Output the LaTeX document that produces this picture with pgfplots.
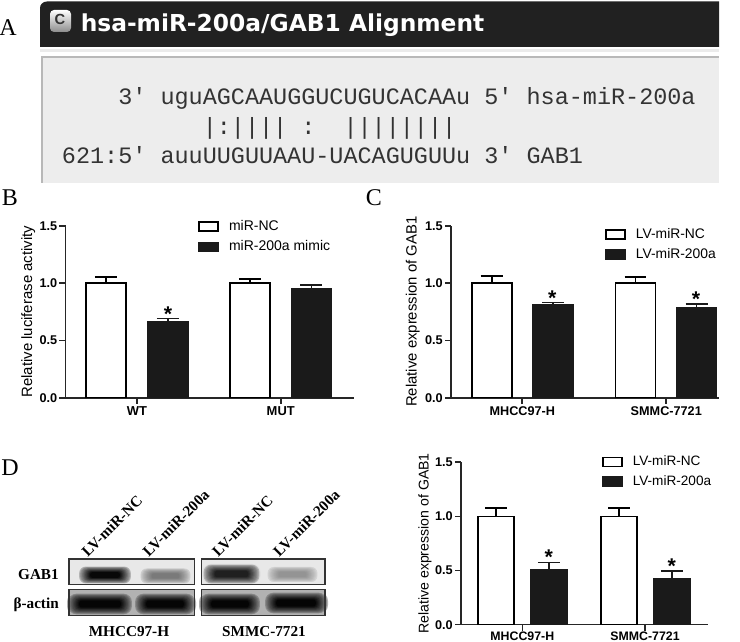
\documentclass[border=0pt]{standalone}
\usepackage{fontspec}
\setmainfont{Liberation Sans}
\newfontfamily\serifbold{Liberation Serif}[BoldFont={Liberation Serif Bold}]
\newfontfamily\alignfont{Liberation Mono}
\newfontfamily\titlefont{DejaVu Sans}
\usepackage{pgfplots}
\pgfplotsset{compat=1.18}
\usetikzlibrary{plotmarks}

\definecolor{barblack}{HTML}{1A1A1A}
\definecolor{axblack}{HTML}{262626}

% all the graphpad-looking panels share this
\pgfplotsset{
  prism/.style={
    scale only axis,
    anchor=south west,
    ymin=0, ymax=1.5,
    axis x line*=bottom, axis y line*=left,
    axis line style={-, line width=1.2pt, draw=axblack},
    tick style={line width=1.2pt, draw=axblack},
    tick align=outside,
    major tick length=4.5pt,
    ytick={0,0.5,1,1.5},
    xtick={0,1},
    /pgf/number format/assume math mode=true,
    /pgf/number format/fixed, /pgf/number format/fixed zerofill, /pgf/number format/precision=1,
    yticklabel style={font=\fontsize{9.5}{10}\selectfont\bfseries, inner sep=1.5pt},
    xticklabel style={yshift=1.2pt},
    legend cell align=left,
    legend style={draw=none, fill=none, inner sep=0pt, outer sep=0pt, anchor=north west, row sep=2pt,
      /tikz/every odd column/.append style={column sep=5.5pt}},
    legend image code/.code={
      \draw[##1, line width=1.2pt] (0pt,-3.4pt) rectangle (14.4pt,3.4pt);
    },
  },
  nc/.style={ybar, bar shift=0pt, bar width=#1, draw=black, fill=white, line width=1.25pt,
    error bars/.cd, y dir=plus, y explicit,
    error bar style={line width=1.25pt, draw=black},
    error mark options={rotate=90, mark size=8.2pt, line width=1.25pt, draw=black}},
  nc/.default=30pt,
  mir/.style={ybar, bar shift=0pt, bar width=#1, draw=barblack, fill=barblack, line width=1.25pt,
    error bars/.cd, y dir=plus, y explicit,
    error bar style={line width=1.25pt, draw=barblack},
    error mark options={rotate=90, mark size=8.2pt, line width=1.25pt, draw=barblack}},
  mir/.default=30pt,
  star/.style={only marks, forget plot, mark=text, text mark={\fontsize{16}{16}\selectfont\bfseries *},
    mark options={draw=none}},
}

% soft blot band, nested fills from background to darkest
\newcommand{\band}[6]{%
  \foreach \i in {0,...,11}{
    \pgfmathsetmacro{\d}{#5+(#6-#5)*(\i/11)^0.6}
    \pgfmathsetmacro{\rx}{#3-\i*1.1}
    \pgfmathsetmacro{\ry}{#4-\i*#4/16}
    \fill[black!\d, rounded corners=\ry*0.6pt] (#1-\rx,#2-\ry) rectangle (#1+\rx,#2+\ry);
  }%
}

\begin{document}
\begin{tikzpicture}
\useasboundingbox (0,0) rectangle (555pt,481.5pt);

\begin{scope}[x=0.75pt,y=-0.75pt,yshift=481.5pt]
  % panel letters
  \node[font=\serifbold\fontsize{18}{18}\selectfont, inner sep=0pt] at (8,28) {A};
  \node[font=\serifbold\fontsize{18}{18}\selectfont, inner sep=0pt] at (10,198) {B};
  \node[font=\serifbold\fontsize{18}{18}\selectfont, inner sep=0pt] at (374,198) {C};
  \node[font=\serifbold\fontsize{18}{18}\selectfont, inner sep=0pt] at (10,468) {D};

  % panel A, the alignment screenshot
  \fill[black!87] (40,47) -- (40,8) to[out=90,in=180] (47,1.5) -- (719,1.5) -- (719,47) -- cycle;
  \fill[black!8] (40,49) rectangle (719,52);
  \fill[black!7] (41,56) rectangle (719,183);
  \draw[black!28, line width=1.6pt] (42,183) -- (42,57) -- (719,57);
  \shade[top color=white, bottom color=black!45, rounded corners=3pt] (50,10) rectangle (71,32);
  \node[font=\bfseries\fontsize{11}{11}\selectfont, text=black!80, inner sep=0pt] at (60,19) {C};
  \node[anchor=west, inner sep=0pt, text=white,
    font=\titlefont\bfseries\fontsize{17.5}{18}\selectfont] at (80.5,25) {hsa-miR-200a/GAB1 Alignment};
  \begin{scope}[every node/.style={anchor=west, inner sep=0pt, text=black!80,
      font=\alignfont\fontsize{17.6}{18}\selectfont}]
    \node at (61.7,98) {~~~~3' uguAGCAAUGGUCUGUCACAAu 5' hsa-miR-200a};
    \node at (61.7,128) {~~~~~~~~~~|:||||~:~~||||||||};
    \node at (61.7,155) {621:5' auuUUGUUAAU-UACAGUGUUu 3' GAB1};
  \end{scope}

  % panel D, the western blot
  \fill[black!9] (69,559) rectangle (194.3,584.7);
  \fill[black!9] (201.7,559) rectangle (325,584.7);
  \fill[black!30] (69,589.3) rectangle (194.3,615.3);
  \fill[black!30] (201.7,589.3) rectangle (325,615.3);
  \band{105}{575}{27}{9}{9}{97}
  \band{165.5}{576}{26}{8}{9}{52}
  \band{231.5}{574}{29}{10}{12}{88}
  \band{292.5}{574.5}{26}{8}{9}{42}
  \band{100}{604}{33}{11}{30}{98}
  \band{165}{604}{31}{11}{30}{98}
  \band{230}{604}{31}{11}{30}{98}
  \band{296}{603}{32}{11}{30}{98}
  \draw[black!80, line width=0.9pt] (69,559) rectangle (194.3,584.7);
  \draw[black!80, line width=0.9pt] (201.7,559) rectangle (325,584.7);
  \draw[black!80, line width=0.9pt] (69,589.3) rectangle (194.3,615.3);
  \draw[black!80, line width=0.9pt] (201.7,589.3) rectangle (325,615.3);
  \begin{scope}[every node/.style={inner sep=0pt, font=\serifbold\bfseries\fontsize{11.4}{12}\selectfont}]
    \node[anchor=south west, rotate=45] at (88,558) {LV-miR-NC};
    \node[anchor=south west, rotate=45] at (149,558) {LV-miR-200a};
    \node[anchor=south west, rotate=45] at (218.5,558) {LV-miR-NC};
    \node[anchor=south west, rotate=45] at (279.5,558) {LV-miR-200a};
    \node[anchor=east] at (59,575) {GAB1};
    \node[anchor=east] at (59,605) {β-actin};
    \node at (129,632) {MHCC97-H};
    \node at (264,632) {SMMC-7721};
  \end{scope}
\end{scope}

% panel B
\begin{axis}[prism, at={(49.125pt,183.2pt)}, width=216.4pt, height=129pt,
  xmin=-0.4976, xmax=1.51,
  xticklabels={WT,MUT},
  xticklabel style={font=\fontsize{9.7}{10}\selectfont\bfseries},
  ylabel={Relative luciferase activity},
  ylabel style={font=\fontsize{11.2}{12}\selectfont, at={(axis description cs:-0.129,0.5)}, anchor=center},
  legend style={at={(axis description cs:0.46,1.045)}, font=\fontsize{10.5}{14.6}\selectfont},
]
\addplot[nc] coordinates {(-0.217,1.00) +- (0,0.05) (0.785,1.00) +- (0,0.035)};
\addlegendentry{miR-NC}
\addplot[mir] coordinates {(0.215,0.66) +- (0,0.032) (1.213,0.95) +- (0,0.032)};
\addlegendentry{miR-200a mimic}
\addplot[star] coordinates {(0.215,0.73)};
\end{axis}

% panel C
\begin{axis}[prism, at={(338.25pt,183.2pt)}, width=201.2pt, height=129pt,
  xmin=-0.495, xmax=1.368,
  xticklabels={MHCC97-H,SMMC-7721},
  xticklabel style={font=\fontsize{9.5}{10}\selectfont\bfseries},
  ylabel={Relative expression of GAB1},
  ylabel style={font=\fontsize{11.15}{12}\selectfont, at={(axis description cs:-0.1427,0.5)}, anchor=center},
  legend style={at={(axis description cs:0.5745,1.0)}, font=\fontsize{10.4}{14.6}\selectfont},
]
\addplot[nc] coordinates {(-0.2125,1.00) +- (0,0.06) (0.786,1.00) +- (0,0.05)};
\addlegendentry{LV-miR-NC}
\addplot[mir] coordinates {(0.213,0.81) +- (0,0.02) (1.211,0.78) +- (0,0.04)};
\addlegendentry{LV-miR-200a}
\addplot[star] coordinates {(0.208,0.87) (1.207,0.86)};
\end{axis}

% panel D, densitometry
\begin{axis}[prism, at={(345.75pt,13pt)}, width=185.5pt, height=121.8pt,
  xmin=-0.4996, xmax=1.516,
  xticklabels={MHCC97-H,SMMC-7721},
  xticklabel style={font=\fontsize{9.25}{10}\selectfont\bfseries, yshift=1.5pt},
  ylabel={Relative expression of GAB1},
  ylabel style={font=\fontsize{10.6}{12}\selectfont, at={(axis description cs:-0.1456,0.5)}, anchor=center},
  legend style={at={(axis description cs:0.57,1.055)}, font=\fontsize{10.2}{14.25}\selectfont},
]
\addplot[nc=27pt] coordinates {(-0.212,1.00) +- (0,0.08) (0.79,1.00) +- (0,0.075)};
\addlegendentry{LV-miR-NC}
\addplot[mir=27pt] coordinates {(0.215,0.51) +- (0,0.065) (1.2176,0.42) +- (0,0.075)};
\addlegendentry{LV-miR-200a}
\addplot[star] coordinates {(0.215,0.62) (1.2176,0.54)};
\end{axis}
\end{tikzpicture}
\end{document}
